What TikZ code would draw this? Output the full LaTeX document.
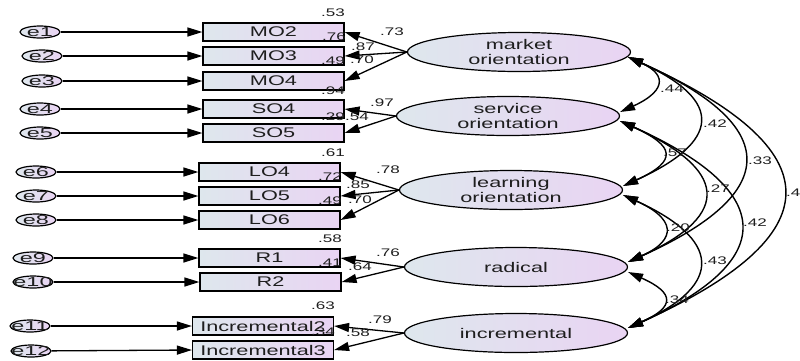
\documentclass[tikz,border=0pt]{standalone}
\usepackage{fontspec}
\setmainfont{Liberation Sans}[FakeStretch=1.55]
\newfontfamily\efont{Liberation Sans}[FakeStretch=1.8]
\usetikzlibrary{arrows.meta,calc,shapes.geometric}
\definecolor{gl}{RGB}{222,231,237}
\definecolor{gr}{RGB}{233,212,243}
\definecolor{txt}{RGB}{30,30,30}
\tikzset{
 err/.style={ellipse, draw, line width=1.2pt, left color=gl, right color=gr, minimum width=40pt, minimum height=12pt, inner sep=0pt},
 ef/.style={font=\efont\fontsize{13}{13}\selectfont, inner sep=0pt, text=txt},
 obs/.style={rectangle, draw, line width=1.2pt, left color=gl, right color=gr, minimum width=141pt, minimum height=18pt, inner sep=0pt, font=\fontsize{14}{14}\selectfont, text=txt},
 lat/.style={ellipse, draw, line width=1.2pt, left color=gl, right color=gr, minimum width=223pt, minimum height=39pt, inner sep=0pt},
 latf/.style={font=\fontsize{14}{15}\selectfont, align=center, inner sep=0pt, text=txt},
 lbl/.style={font=\fontsize{11}{11}\selectfont, text=txt, inner sep=0pt},
 tip/.style={-{Triangle[length=15pt,width=9pt]}, line width=1.3pt},
 cov/.style={{Triangle[length=15pt,width=9pt]}-{Triangle[length=15pt,width=9pt]}, line width=1.4pt},
}
\begin{document}
\begin{tikzpicture}[x=1pt,y=-1pt]
\useasboundingbox (0,0) rectangle (800,360);
% error terms
\node[err, label={[ef]center:e1}] (e1) at (40,32) {};
\node[err, label={[ef]center:e2}] (e2) at (42,56) {};
\node[err, label={[ef]center:e3}] (e3) at (42,81) {};
\node[err, label={[ef]center:e4}] (e4) at (40,109) {};
\node[err, label={[ef]center:e5}] (e5) at (40,133) {};
\node[err, label={[ef]center:e6}] (e6) at (36,172) {};
\node[err, label={[ef]center:e7}] (e7) at (36,196) {};
\node[err, label={[ef]center:e8}] (e8) at (36,220) {};
\node[err, label={[ef]center:e9}] (e9) at (33,258) {};
\node[err, label={[ef]center:e10}] (e10) at (33,282) {};
\node[err, label={[ef]center:e11}] (e11) at (30,326) {};
\node[err, label={[ef]center:e12}] (e12) at (31,351) {};
% observed
\node[obs] (mo2) at (273.5,32) {MO2};
\node[obs] (mo3) at (273.5,56) {MO3};
\node[obs] (mo4) at (273.5,81) {MO4};
\node[obs] (so4) at (273.5,109) {SO4};
\node[obs] (so5) at (273.5,133) {SO5};
\node[obs] (lo4) at (269.5,172) {LO4};
\node[obs] (lo5) at (269.5,196) {LO5};
\node[obs] (lo6) at (269.5,220) {LO6};
\node[obs] (r1) at (269.5,258) {R1};
\node[obs] (r2) at (270.5,282) {R2};
\node[obs] (inc2) at (263,326) {Incremental2};
\node[obs] (inc3) at (263,350) {Incremental3};
% latent
\node[lat, label={[latf]center:{market\\orientation}}] (mo) at (519,52) {};
\node[lat, label={[latf]center:{service\\orientation}}] (so) at (508,116) {};
\node[lat, label={[latf]center:{learning\\orientation}}] (lo) at (511,190) {};
\node[lat, label={[latf]center:{radical}}] (ra) at (516,267) {};
\node[lat, label={[latf]center:{incremental}}] (inc) at (516,333) {};
% error arrows
\foreach \e/\b in {e1/mo2,e2/mo3,e3/mo4,e4/so4,e5/so5,e6/lo4,e7/lo5,e8/lo6,e9/r1,e10/r2,e11/inc2,e12/inc3}
  \draw[tip] (\e) -- (\b.west);
% loadings
\foreach \l/\b in {mo/mo2,mo/mo3,mo/mo4,so/so4,so/so5,lo/lo4,lo/lo5,lo/lo6,ra/r1,ra/r2,inc/inc2,inc/inc3}
  \draw[tip] (\l.west) -- (\b.east);
% covariances
\coordinate (moB) at ($(mo.east)+(-3,5)$);
\coordinate (soT) at ($(so.east)+(0,-4)$);
\coordinate (soB) at ($(so.east)+(0,5)$);
\coordinate (loT) at ($(lo.east)+(0,-4)$);
\coordinate (loB) at ($(lo.east)+(0,5)$);
\coordinate (raT) at ($(ra.east)+(0,-5)$);
\coordinate (raB) at ($(ra.east)+(0,5)$);
\coordinate (inT) at ($(inc.east)+(0,-5)$);
\draw[cov] (moB) .. controls +(42,19) and +(42,-19) .. (soT);
\draw[cov] (moB) .. controls +(97,44) and +(97,-44) .. (loT);
\draw[cov] (moB) .. controls +(154,69) and +(154,-69) .. (raT);
\draw[cov] (moB) .. controls +(206,93) and +(206,-93) .. (inT);
\draw[cov] (soB) .. controls +(55,25) and +(55,-25) .. (loT);
\draw[cov] (soB) .. controls +(106,48) and +(106,-48) .. (raT);
\draw[cov] (soB) .. controls +(154,69) and +(154,-69) .. (inT);
\draw[cov] (loB) .. controls +(51,23) and +(51,-23) .. (raT);
\draw[cov] (loB) .. controls +(97,44) and +(97,-44) .. (inT);
\draw[cov] (raB) .. controls +(47,21) and +(47,-21) .. (inT);
% squared multiple correlations
\node[lbl] (s1) at (333,13) {.53};
\node[lbl] (s2) at (334,37) {.76};
\node[lbl] (s3) at (333,61) {.49};
\node[lbl] (s4) at (333,91) {.94};
\node[lbl] (s5) at (333,117) {.29};
\node[lbl] (s6) at (333,153) {.61};
\node[lbl] (s7) at (330,177) {.72};
\node[lbl] (s8) at (330,201) {.49};
\node[lbl] (s9) at (330,239) {.58};
\node[lbl] (s10) at (330,263) {.41};
\node[lbl] (s11) at (323,306) {.63};
\node[lbl] (s12) at (323,332) {.34};
% loading labels
\node[lbl] (l1) at (392,32) {.73};
\node[lbl] (l2) at (363,47) {.87};
\node[lbl] (l3) at (362,60) {.70};
\node[lbl] (l4) at (382,103) {.97};
\node[lbl] (l5) at (357,117) {.54};
\node[lbl] (l6) at (388,170) {.78};
\node[lbl] (l7) at (358,185) {.85};
\node[lbl] (l8) at (360,200) {.70};
\node[lbl] (l9) at (388,253) {.76};
\node[lbl] (l10) at (360,267) {.64};
\node[lbl] (l11) at (380,320) {.79};
\node[lbl] (l12) at (358,333) {.58};
% covariance labels
\node[lbl] (c1) at (672,89) {.44};
\node[lbl] (c2) at (715,124) {.42};
\node[lbl] (c3) at (760,161) {.33};
\node[lbl] (c4) at (798,193) {.42};
\node[lbl] (c5) at (675,153) {.57};
\node[lbl] (c6) at (718,189) {.27};
\node[lbl] (c7) at (755,223) {.42};
\node[lbl] (c8) at (678,228) {.20};
\node[lbl] (c9) at (715,261) {.43};
\node[lbl] (c10) at (677,300) {.34};
\end{tikzpicture}
\end{document}
